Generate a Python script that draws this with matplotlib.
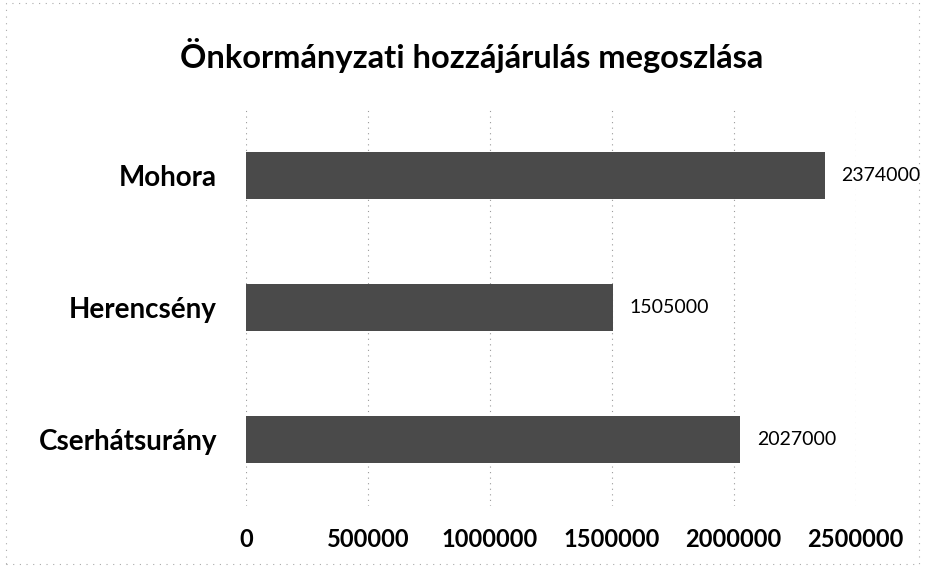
import matplotlib
matplotlib.use("Agg")
import matplotlib.pyplot as plt
from matplotlib.patches import Rectangle

# data
categories = ["Cserhátsurány", "Herencsény", "Mohora"]
values = [2027000, 1505000, 2374000]
xticks = [0, 500000, 1000000, 1500000, 2000000, 2500000]
title = "Önkormányzati hozzájárulás megoszlása"

plt.rcParams['font.family'] = ['Lato', 'DejaVu Sans']

fig = plt.figure(figsize=(9.25, 5.67), dpi=100)
ax = fig.add_axes([0.266, 0.108, 0.659, 0.698])

ypos = range(len(categories))
ax.barh(ypos, values, height=0.356, color='#4a4a4a', zorder=3)

for y, v in zip(ypos, values):
    ax.annotate(str(v), (v, y), xytext=(12, 0), textcoords='offset points',
                va='center', ha='left', fontsize=14, clip_on=False)

ax.set_xlim(0, 2500000)
ax.set_ylim(-0.5, 2.5)
ax.set_xticks(xticks)
ax.set_xticklabels([str(t) for t in xticks], fontsize=17, fontweight='bold')
ax.set_yticks(list(ypos))
ax.set_yticklabels(categories, fontsize=20, fontweight='bold')
ax.tick_params(axis='x', length=0, pad=16)
ax.tick_params(axis='y', length=0, pad=21)

ax.grid(axis='x', color='#9a9a9a', linestyle=(0, (1, 4)), linewidth=0.8, zorder=0)
for s in ax.spines.values():
    s.set_visible(False)

fig.text(0.51, 0.880, title, ha='center', va='baseline', fontsize=23.5, fontweight='bold')

# dotted frame of the chart area
fig.patches.append(Rectangle((0.006, 0.006), 0.988, 0.988, transform=fig.transFigure,
                             fill=False, edgecolor='#aaaaaa', linestyle=(0, (1, 5)),
                             linewidth=0.8))

fig.savefig("out.png", dpi=100)
